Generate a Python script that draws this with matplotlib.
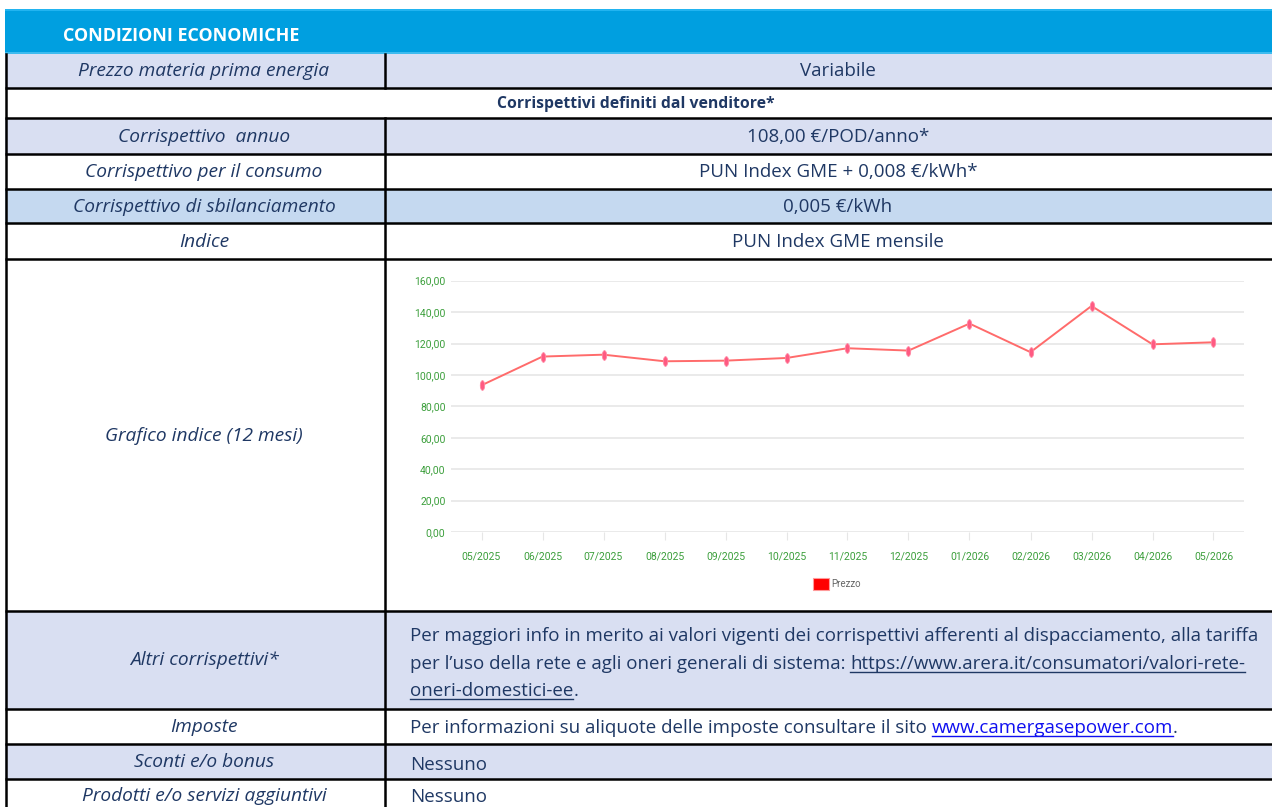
import matplotlib
matplotlib.use("Agg")
import matplotlib.pyplot as plt
from matplotlib import font_manager
from matplotlib.patches import Rectangle, Patch
from matplotlib.markers import MarkerStyle
from matplotlib.transforms import Affine2D
from matplotlib.ticker import FuncFormatter

# --- data ---
months = ['05/2025', '06/2025', '07/2025', '08/2025', '09/2025', '10/2025', '11/2025',
          '12/2025', '01/2026', '02/2026', '03/2026', '04/2026', '05/2026']
prezzo = [93.4, 111.7, 112.9, 108.7, 109.1, 110.8, 117.0, 115.5, 132.7, 114.5, 143.9, 119.5, 120.8]
y_ticks = [0, 20, 40, 60, 80, 100, 120, 140, 160]
series_name = 'Prezzo'

# --- table texts ---
header = 'CONDIZIONI ECONOMICHE'
section = 'Corrispettivi definiti dal venditore*'
row_labels = ['Prezzo materia prima energia', 'Corrispettivo  annuo', 'Corrispettivo per il consumo',
              'Corrispettivo di sbilanciamento', 'Indice', 'Grafico indice (12 mesi)',
              'Altri corrispettivi*', 'Imposte', 'Sconti e/o bonus', 'Prodotti e/o servizi aggiuntivi']
row_values = ['Variabile', '108,00 €/POD/anno*', 'PUN Index GME + 0,008 €/kWh*', '0,005 €/kWh',
              'PUN Index GME mensile']
altri_line1 = 'Per maggiori info in merito ai valori vigenti dei corrispettivi afferenti al dispacciamento, alla tariffa'
altri_line2 = 'per l’uso della rete e agli oneri generali di sistema:'
altri_link1 = 'https://www.arera.it/consumatori/valori-rete-'
altri_link2 = 'oneri-domestici-ee'
imposte_txt = 'Per informazioni su aliquote delle imposte consultare il sito'
imposte_link = 'www.camergasepower.com'
nessuno = 'Nessuno'

available = {f.name for f in font_manager.fontManager.ttflist}
def pick(*names):
    for n in names:
        if n in available:
            return n
    return 'DejaVu Sans'

FONT = pick('Open Sans', 'Lato', 'Noto Sans')
NARROW = pick('Liberation Sans Narrow', 'Roboto', 'Lato')

W, H = 1272, 807
NAVY = '#1f3864'
LAV = '#d9dff2'
LBLUE = '#c5d9f0'
HEAD = '#009fe0'
GREEN = '#3c9f3c'

fig = plt.figure(figsize=(W / 100, H / 100), dpi=100)
ax = fig.add_axes([0, 0, 1, 1])
ax.set_xlim(0, W)
ax.set_ylim(H, 0)
ax.axis('off')

x_left, x_mid, x_right = 5, 385, 1272
# header band
ax.add_patch(Rectangle((x_left, 9), x_right - x_left, 45, color=HEAD, lw=0))
ax.add_patch(Rectangle((x_left, 9), x_right - x_left, 2, color='#22b4f0', lw=0))
ax.add_patch(Rectangle((x_left, 52), x_right - x_left, 2, color='#3dbbef', lw=0))
ax.text(63, 36, header, color='white', fontweight='bold', fontsize=12.9, family=FONT, va='center')

bounds = [54, 88, 118, 154, 189, 223, 259, 611, 709, 744, 779, 830]
fills = [LAV, 'white', LAV, 'white', LBLUE, 'white', 'white', LAV, 'white', LAV, 'white']
for (y0, y1, c) in zip(bounds[:-1], bounds[1:], fills):
    ax.add_patch(Rectangle((x_left, y0), x_right - x_left, y1 - y0, color=c, lw=0))
for y in bounds[1:-1]:
    ax.plot([x_left, x_right], [y, y], color='black', lw=1.8, solid_capstyle='butt')
ax.plot([6, 6], [54, H], color='black', lw=1.8)
ax.plot([x_mid, x_mid], [54, 88], color='black', lw=1.8)
ax.plot([x_mid, x_mid], [118, H], color='black', lw=1.8)

ax.text(636, 104, section, color=NAVY, fontweight='bold', fontsize=11.3, family=FONT,
        ha='center', va='center')

# left column labels
label_y = [71, 137, 172, 207, 242, 436, 660, 727, 762, 796]
for s, y in zip(row_labels, label_y):
    ax.text(204, y, s, color=NAVY, style='italic', fontsize=13.8, family=FONT,
            ha='center', va='center')

# right column centered values
value_y = [71, 137, 172, 207, 242]
for s, y in zip(row_values, value_y):
    ax.text(838, y, s, color=NAVY, fontsize=13.5, family=FONT, ha='center', va='center')

fig.canvas.draw()
rend = fig.canvas.get_renderer()
inv = ax.transData.inverted()

para_kw = dict(fontsize=13.5, family=FONT)

def width_px(s):
    t = ax.text(0, 0, s, **para_kw)
    bb = t.get_window_extent(renderer=rend)
    t.remove()
    return bb.width

space = width_px('a a') - width_px('aa')

def put(x, y, s, underline=False, color=NAVY):
    t = ax.text(x, y, s, color=color, va='baseline', ha='left', **para_kw)
    bb = t.get_window_extent(renderer=rend)
    x1 = inv.transform((bb.x1, bb.y0))[0]
    if underline:
        ax.plot([x, x1], [y + 3, y + 3], color=color, lw=1)
    return x1

x0 = 410
put(x0, 641, altri_line1)
xe = put(x0, 669, altri_line2)
put(xe + space, 669, altri_link1, underline=True)
xe = put(x0, 696, altri_link2, underline=True)
put(xe, 696, '.')
xe = put(x0, 733, imposte_txt)
xe = put(xe + space, 733, imposte_link, underline=True, color='#1010f0')
put(xe, 733, '.')
put(x0, 770, nessuno)
put(x0, 802, nessuno)

# --- embedded line chart ---
cax = fig.add_axes([451 / W, 1 - 532 / H, (1244 - 451) / W, (532 - 280.7) / H])
cax.set_facecolor('none')
xs = list(range(len(months)))
cax.plot(xs, prezzo, color='#ff6b6b', lw=1.4, zorder=3)
mk = MarkerStyle('o', transform=Affine2D().scale(0.45, 1.0))
cax.plot(xs, prezzo, ls='none', marker=mk, ms=7, color='#ff5a82', mec='#ff8aa5', mew=0.6, zorder=4)
cax.set_xlim(-0.5, len(months) - 0.5)
cax.set_ylim(y_ticks[0], y_ticks[-1])
cax.set_yticks(y_ticks)
cax.yaxis.set_major_formatter(FuncFormatter(lambda v, p: f'{v:.2f}'.replace('.', ',')))
cax.set_xticks(xs)
cax.set_xticklabels(months)
for s in cax.spines.values():
    s.set_visible(False)
cax.grid(axis='y', color='#e6e6e6', lw=1.2)
cax.tick_params(axis='y', length=0, pad=4, labelcolor=GREEN, labelsize=7.5)
cax.tick_params(axis='x', length=6, color='#e6e6e6', pad=8, labelcolor=GREEN, labelsize=7.5)
for lab in cax.get_xticklabels() + cax.get_yticklabels():
    lab.set_family(NARROW)

leg = fig.legend(handles=[Patch(facecolor='#ff0000', edgecolor='#ff9a9a', lw=0.8)], labels=[series_name],
                 loc='center', bbox_to_anchor=(837 / W, 1 - 584 / H), frameon=False,
                 handlelength=1.6, handleheight=1.5, handletextpad=0.25,
                 prop={'family': NARROW, 'size': 7})
for t in leg.get_texts():
    t.set_color('#666666')

fig.savefig('out.png', dpi=100)
